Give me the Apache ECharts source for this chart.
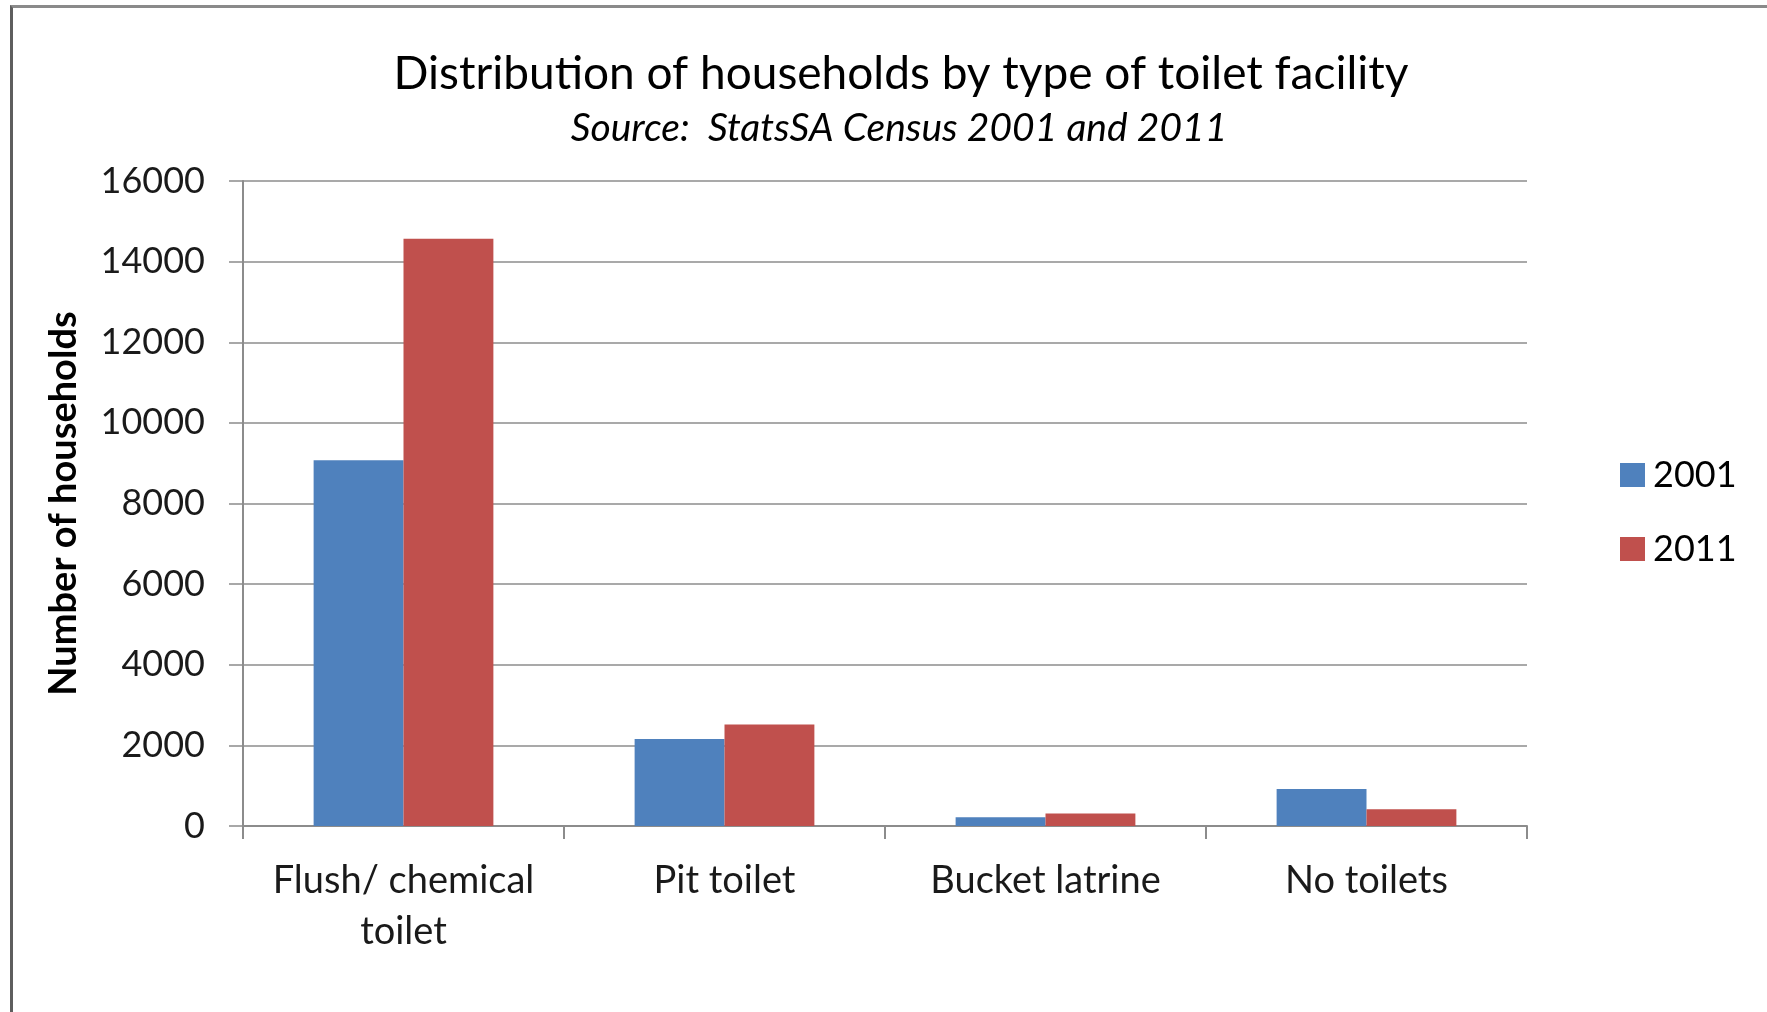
<!DOCTYPE html>
<html>
<head>
<meta charset="utf-8">
<script src="https://cdn.jsdelivr.net/npm/echarts@6/dist/echarts.min.js"></script>
<style>
  html, body { margin: 0; padding: 0; background: #ffffff; }
  #chart { position: absolute; left: 0; top: 0; width: 1767px; height: 1012px; }
  #frame { position: absolute; left: 10px; top: 5px; width: 1767px; height: 1012px;
           border-left: 3px solid #5e5e5e; border-top: 3px solid #8a8a8a; pointer-events: none; }
</style>
</head>
<body>
<div id="chart"></div>
<div id="frame"></div>
<script>
const categories = ['Flush/ chemical\ntoilet', 'Pit toilet', 'Bucket latrine', 'No toilets'];
const seriesNames = ['2001', '2011'];
const values2001 = [9070, 2158, 217, 917];
const values2011 = [14570, 2517, 308, 417];
const yTicks = { min: 0, max: 16000, interval: 2000 };

const FONT = 'Lato';
const chart = echarts.init(document.getElementById('chart'), null, { renderer: 'canvas' });
chart.setOption({
  backgroundColor: '#ffffff',
  animation: false,
  title: [
    {
      text: 'Distribution of households by type of toilet facility',
      left: 896, top: 46, textAlign: 'center',
      textStyle: { fontFamily: FONT, fontSize: 46, fontWeight: 'normal', color: '#000', lineHeight: 46 }
    },
    {
      text: 'Source:  StatsSA Census 2001 and 2011',
      left: 894, top: 104, textAlign: 'center',
      textStyle: { fontFamily: FONT, fontSize: 39, fontStyle: 'italic', fontWeight: 'normal', color: '#000', lineHeight: 39 }
    }
  ],
  legend: {
    orient: 'vertical',
    left: 1620, top: 457,
    padding: 0,
    itemWidth: 25, itemHeight: 24,
    itemGap: 38,
    icon: 'rect',
    data: seriesNames,
    textStyle: { fontFamily: FONT, fontSize: 36, color: '#000', lineHeight: 36, padding: [0, 0, 0, 3] }
  },
  grid: { left: 243, right: 240, top: 181, bottom: 186 },
  xAxis: {
    type: 'category',
    data: categories,
    axisLine: { show: true, lineStyle: { color: '#8c8c8c', width: 2 } },
    axisTick: { show: true, length: 13, lineStyle: { color: '#8c8c8c', width: 2 } },
    axisLabel: { fontFamily: FONT, fontSize: 38, color: '#1a1a1a', lineHeight: 51, margin: 29, interval: 0 }
  },
  yAxis: {
    type: 'value',
    min: yTicks.min, max: yTicks.max, interval: yTicks.interval,
    name: 'Number of households',
    nameLocation: 'middle',
    nameGap: 160,
    nameTextStyle: { fontFamily: FONT, fontSize: 38, fontWeight: 'bold', color: '#000', lineHeight: 38 },
    axisLine: { show: true, lineStyle: { color: '#8c8c8c', width: 2 } },
    axisTick: { show: true, length: 14, lineStyle: { color: '#8c8c8c', width: 1.5 } },
    splitLine: { show: true, lineStyle: { color: '#8c8c8c', width: 1.5 } },
    axisLabel: { fontFamily: FONT, fontSize: 36, color: '#1a1a1a', margin: 38, formatter: v => String(v) }
  },
  series: [
    {
      name: seriesNames[0], type: 'bar', data: values2001,
      barGap: '0%', barCategoryGap: '44%',
      itemStyle: { color: '#4F81BD' }
    },
    {
      name: seriesNames[1], type: 'bar', data: values2011,
      barGap: '0%', barCategoryGap: '44%',
      itemStyle: { color: '#C0504D' }
    }
  ]
});
</script>
</body>
</html>
